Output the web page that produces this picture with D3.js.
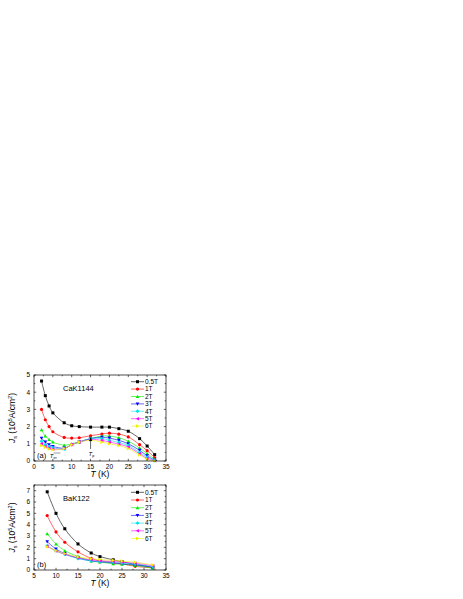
<!DOCTYPE html>
<html><head><meta charset="utf-8">
<script src="https://cdn.jsdelivr.net/npm/d3@7"></script>
<style>body{margin:0;background:#fff}svg{display:block}text{font-family:"Liberation Sans",Arial,sans-serif}</style>
</head><body>
<script>
const seriesNames = ["0.5T","1T","2T","3T","4T","5T","6T"];
const colors = ["#000000","#ff0000","#00ee00","#0000ff","#00e5ee","#ff00ff","#f0f000"];
const symbols = ["square","circle","triUp","triDown","diamond","triLeft","triRight"];

const tempA = [2,3,4,5,8,10,12,15,18,20,22.5,25,28,30,32];
const jsA = [
  [4.65,3.8,3.2,2.8,2.22,2.05,2.0,1.97,1.97,1.97,1.88,1.73,1.3,0.87,0.37],
  [3.0,2.4,2.0,1.7,1.37,1.33,1.35,1.47,1.57,1.62,1.56,1.4,0.95,0.6,0.2],
  [1.82,1.45,1.25,1.1,0.92,1.0,1.12,1.3,1.45,1.45,1.35,1.15,0.75,0.43,0.1],
  [1.32,1.1,0.95,0.85,0.75,0.95,1.1,1.3,1.38,1.33,1.2,1.0,0.62,0.3,0.05],
  [1.15,0.95,0.85,0.78,0.7,0.95,1.1,1.3,1.3,1.2,1.08,0.9,0.5,0.22,0.03],
  [1.0,0.85,0.75,0.7,0.72,0.95,1.1,1.25,1.2,1.1,0.98,0.82,0.42,0.15,0.02],
  [0.9,0.8,0.7,0.65,0.72,0.95,1.1,1.2,1.1,1.0,0.9,0.72,0.35,0.1,0.0]
];
const tempB = [8,10,12,15,18,20,23,25,28,32];
const jsB = [
  [6.9,5.0,3.63,2.3,1.5,1.18,0.9,0.72,0.5,0.25],
  [4.8,3.36,2.45,1.6,1.03,0.8,0.65,0.55,0.32,0.2],
  [3.2,2.3,1.7,1.2,0.8,0.7,0.55,0.5,0.4,0.15],
  [2.5,1.85,1.45,1.05,0.8,0.72,0.62,0.55,0.45,0.25],
  [2.15,1.7,1.38,1.0,0.82,0.75,0.68,0.62,0.52,0.3],
  [2.1,1.68,1.4,1.08,0.9,0.82,0.75,0.7,0.6,0.38],
  [2.05,1.7,1.45,1.15,1.0,0.92,0.85,0.78,0.68,0.45]
];
const xTicksA = [0,5,10,15,20,25,30,35];
const yTicksA = [0,1,2,3,4,5];
const xTicksB = [5,10,15,20,25,30,35];
const yTicksB = [0,1,2,3,4,5,6,7];

const svg = d3.select("body").append("svg").attr("width",463).attr("height",599);

function marker(g, type, x, y, color, s){
  s = s || 1.5;
  let p;
  if(type==="square") p = `M${x-s},${y-s}h${2*s}v${2*s}h${-2*s}Z`;
  else if(type==="circle"){ g.append("circle").attr("cx",x).attr("cy",y).attr("r",s*1.05).attr("fill",color); return; }
  else if(type==="triUp") p = `M${x},${y-s*1.2}L${x+s*1.2},${y+s}L${x-s*1.2},${y+s}Z`;
  else if(type==="triDown") p = `M${x},${y+s*1.2}L${x+s*1.2},${y-s}L${x-s*1.2},${y-s}Z`;
  else if(type==="diamond") p = `M${x},${y-s*1.3}L${x+s*1.3},${y}L${x},${y+s*1.3}L${x-s*1.3},${y}Z`;
  else if(type==="triLeft") p = `M${x-s*1.2},${y}L${x+s},${y-s*1.2}L${x+s},${y+s*1.2}Z`;
  else p = `M${x+s*1.2},${y}L${x-s},${y-s*1.2}L${x-s},${y+s*1.2}Z`;
  g.append("path").attr("d",p).attr("fill",color);
}

function panel(opt){
  const x = d3.scaleLinear().domain(opt.xd).range([34,166]);
  const y = d3.scaleLinear().domain(opt.yd).range([opt.bottom,opt.top]);
  const g = svg.append("g");
  opt.data.forEach((vals,i)=>{
    const line = d3.line().x((d,j)=>x(opt.temps[j])).y(d=>y(d)).curve(d3.curveCatmullRom.alpha(0.5));
    g.append("path").attr("d",line(vals)).attr("fill","none").attr("stroke",colors[i]).attr("stroke-width",0.6);
  });
  opt.data.forEach((vals,i)=>{
    vals.forEach((v,j)=>marker(g,symbols[i],x(opt.temps[j]),y(v),colors[i]));
  });
  g.append("rect").attr("x",34).attr("y",opt.top).attr("width",132).attr("height",opt.bottom-opt.top)
    .attr("fill","none").attr("stroke","#000").attr("stroke-width",0.7);
  const tk = 2.2, mtk = 1.3;
  const xMinor = d3.range(opt.xd[0], opt.xd[1]+0.01, 2.5);
  xMinor.forEach(v=>{
    const major = opt.xticks.includes(v);
    const L = major?tk:mtk;
    g.append("line").attr("x1",x(v)).attr("x2",x(v)).attr("y1",opt.bottom).attr("y2",opt.bottom-L).attr("stroke","#000").attr("stroke-width",0.6);
    g.append("line").attr("x1",x(v)).attr("x2",x(v)).attr("y1",opt.top).attr("y2",opt.top+L).attr("stroke","#000").attr("stroke-width",0.6);
  });
  opt.xticks.forEach(v=>{
    g.append("text").attr("x",x(v)).attr("y",opt.bottom+8).attr("text-anchor","middle").attr("font-size",6.5).text(v);
  });
  const yMinor = d3.range(opt.yd[0], opt.yd[1]+0.01, 0.5);
  yMinor.forEach(v=>{
    const major = opt.yticks.includes(v);
    const L = major?tk:mtk;
    g.append("line").attr("x1",34).attr("x2",34+L).attr("y1",y(v)).attr("y2",y(v)).attr("stroke","#000").attr("stroke-width",0.6);
    g.append("line").attr("x1",166).attr("x2",166-L).attr("y1",y(v)).attr("y2",y(v)).attr("stroke","#000").attr("stroke-width",0.6);
  });
  opt.yticks.forEach(v=>{
    g.append("text").attr("x",30).attr("y",y(v)+2.3).attr("text-anchor","end").attr("font-size",6.5).text(v);
  });
  const xt = g.append("text").attr("x",100).attr("y",opt.bottom+16).attr("text-anchor","middle").attr("font-size",8.5);
  xt.append("tspan").attr("font-style","italic").text("T");
  xt.append("tspan").text(" (K)");
  const cy = (opt.top+opt.bottom)/2;
  const yt = g.append("text").attr("transform",`translate(15,${cy}) rotate(-90)`).attr("text-anchor","middle").attr("font-size",8.5);
  yt.append("tspan").attr("font-style","italic").text("J");
  yt.append("tspan").attr("font-size",5.5).attr("dy",1.8).text("s");
  yt.append("tspan").attr("dy",-1.8).text(" (10");
  yt.append("tspan").attr("font-size",5.5).attr("dy",-3).text("5");
  yt.append("tspan").attr("dy",3).text("A/cm");
  yt.append("tspan").attr("font-size",5.5).attr("dy",-3).text("2");
  yt.append("tspan").attr("dy",3).text(")");
  g.append("text").attr("x",63).attr("y",opt.top+16).attr("font-size",7.5).text(opt.label);
  seriesNames.forEach((n,i)=>{
    const ly = opt.legTop + i*opt.legStep;
    g.append("line").attr("x1",131).attr("x2",144).attr("y1",ly).attr("y2",ly).attr("stroke",colors[i]).attr("stroke-width",0.6);
    marker(g,symbols[i],137.5,ly,colors[i]);
    g.append("text").attr("x",145).attr("y",ly+2.3).attr("font-size",6.5).text(n);
  });
  g.append("text").attr("x",37).attr("y",opt.bottom-3).attr("font-size",7.5).text(opt.tag);
  return {x,y,g};
}

const A = panel({xd:[0,35],yd:[0,5],top:375,bottom:461,temps:tempA,data:jsA,xticks:xTicksA,yticks:yTicksA,
  label:"CaK1144",legTop:381.7,legStep:7.4,tag:"(a)"});
const B = panel({xd:[5,35],yd:[0,7.5],top:485,bottom:570,temps:tempB,data:jsB,xticks:xTicksB,yticks:yTicksB,
  label:"BaK122",legTop:492.3,legStep:7.7,tag:"(b)"});

const tirr = A.g.append("text").attr("x",A.x(4.2)).attr("y",458).attr("font-size",6);
tirr.append("tspan").attr("font-style","italic").text("T");
tirr.append("tspan").attr("font-size",3.8).attr("dy",1.2).text("irr");
A.g.append("line").attr("x1",A.x(5.2)).attr("x2",A.x(7)).attr("y1",453).attr("y2",453).attr("stroke","#000").attr("stroke-width",0.4);
const tp = A.g.append("text").attr("x",A.x(15)-2).attr("y",456).attr("font-size",6);
tp.append("tspan").attr("font-style","italic").text("T");
tp.append("tspan").attr("font-size",3.8).attr("dy",1.2).text("p");
A.g.append("line").attr("x1",A.x(15)).attr("x2",A.x(15)).attr("y1",449).attr("y2",439).attr("stroke","#000").attr("stroke-width",0.6);
A.g.append("path").attr("d",`M${A.x(15)},437L${A.x(15)-1.5},441L${A.x(15)+1.5},441Z`).attr("fill","#000");
</script>
</body></html>
